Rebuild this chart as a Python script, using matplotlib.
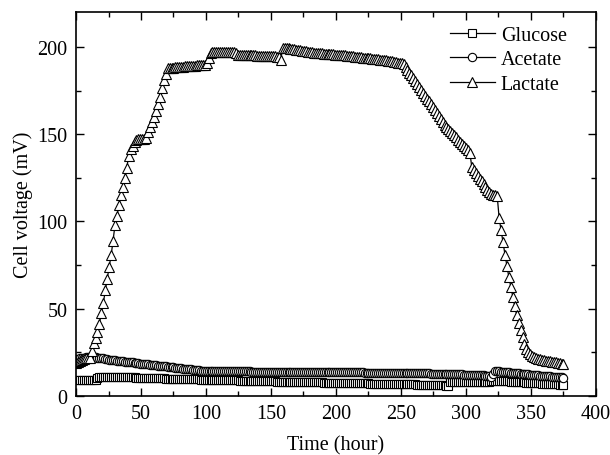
import numpy as np
import matplotlib
matplotlib.use("Agg")
import matplotlib.pyplot as plt
from matplotlib.ticker import MultipleLocator

plt.rcParams['font.family'] = ['Liberation Serif', 'DejaVu Serif']
plt.rcParams['font.size'] = 14.5

# sampling times (h), one reading every 1.5 h
hours = np.arange(0, 375.1, 1.5)

glucose = [
    9.0, 9.0, 9.1, 9.1, 9.1, 9.2, 9.2, 9.2, 9.3, 9.3,
    9.3, 10.5, 11.0, 11.1, 11.1, 11.1, 11.0, 11.0, 11.0, 10.9,
    10.9, 10.9, 10.8, 10.8, 10.8, 10.7, 10.7, 10.7, 10.6, 10.6,
    10.6, 10.5, 10.5, 10.5, 10.4, 10.4, 10.4, 10.3, 10.3, 10.3,
    10.2, 10.2, 10.2, 10.1, 10.1, 10.1, 10.0, 10.0, 10.0, 9.9,
    9.9, 9.9, 9.8, 9.8, 9.8, 9.7, 9.7, 9.7, 9.6, 9.6,
    9.6, 9.5, 9.5, 9.5, 9.4, 9.4, 9.4, 9.4, 9.3, 9.3,
    9.3, 9.2, 9.2, 9.2, 9.1, 9.1, 9.1, 9.0, 9.0, 9.0,
    9.0, 8.9, 8.9, 8.9, 8.8, 8.8, 8.8, 8.7, 8.7, 8.7,
    8.7, 8.6, 8.6, 8.6, 8.6, 8.5, 8.5, 8.5, 8.5, 8.4,
    8.4, 8.4, 8.4, 8.3, 8.3, 8.3, 8.3, 8.2, 8.2, 8.2,
    8.2, 8.1, 8.1, 8.1, 8.1, 8.0, 8.0, 8.0, 8.0, 7.9,
    7.9, 7.9, 7.9, 7.8, 7.8, 7.8, 7.8, 7.7, 7.7, 7.7,
    7.7, 7.6, 7.6, 7.6, 7.6, 7.5, 7.5, 7.5, 7.5, 7.4,
    7.4, 7.4, 7.4, 7.3, 7.3, 7.3, 7.3, 7.2, 7.2, 7.2,
    7.2, 7.1, 7.1, 7.1, 7.1, 7.0, 7.0, 7.0, 7.0, 6.9,
    6.9, 6.9, 6.9, 6.8, 6.8, 6.8, 6.8, 6.7, 6.7, 6.7,
    6.7, 6.6, 6.6, 6.6, 6.6, 6.5, 6.5, 6.5, 6.5, 6.4,
    6.4, 6.4, 6.4, 6.3, 6.3, 6.3, 6.3, 6.2, 6.2, 6.1,
    6.0, 5.7, 8.3, 8.3, 8.3, 8.3, 8.3, 8.3, 8.3, 8.3,
    8.3, 8.3, 8.3, 8.3, 8.3, 8.3, 8.3, 8.3, 8.3, 8.3,
    8.3, 8.3, 8.3, 8.4, 8.6, 8.8, 8.8, 8.7, 8.7, 8.6,
    8.5, 8.5, 8.4, 8.3, 8.3, 8.2, 8.1, 8.0, 8.0, 7.9,
    7.8, 7.7, 7.7, 7.6, 7.5, 7.4, 7.4, 7.3, 7.2, 7.1,
    7.1, 7.0, 6.9, 6.8, 6.8, 6.7, 6.6, 6.6, 6.5, 6.4,
    6.4,
]

acetate = [
    21.0, 21.3, 21.6, 21.8, 22.0, 22.1, 22.2, 22.3, 22.3, 22.2,
    22.1, 22.0, 21.8, 21.7, 21.5, 21.3, 21.1, 20.9, 20.7, 20.5,
    20.4, 20.2, 20.1, 20.0, 19.8, 19.7, 19.6, 19.4, 19.3, 19.2,
    19.0, 18.9, 18.8, 18.6, 18.5, 18.4, 18.2, 18.1, 18.0, 17.8,
    17.7, 17.6, 17.4, 17.3, 17.2, 17.0, 16.9, 16.8, 16.6, 16.5,
    16.4, 16.2, 16.1, 16.0, 15.8, 15.7, 15.6, 15.4, 15.3, 15.2,
    15.0, 14.9, 14.8, 14.7, 14.6, 14.5, 14.4, 14.4, 14.3, 14.3,
    14.3, 14.3, 14.3, 14.3, 14.2, 14.2, 14.2, 14.2, 14.2, 14.2,
    14.2, 14.2, 14.1, 14.1, 14.1, 14.1, 14.1, 14.1, 14.1, 14.1,
    14.0, 14.0, 14.0, 14.0, 14.0, 14.0, 14.0, 14.0, 14.0, 14.0,
    14.0, 14.0, 14.0, 14.0, 13.9, 13.9, 13.9, 13.9, 13.9, 13.9,
    13.9, 13.9, 13.9, 13.9, 13.8, 13.8, 13.8, 13.8, 13.8, 13.8,
    13.8, 13.8, 13.8, 13.8, 13.7, 13.7, 13.7, 13.7, 13.7, 13.7,
    13.7, 13.7, 13.7, 13.6, 13.6, 13.6, 13.6, 13.6, 13.6, 13.6,
    13.6, 13.5, 13.5, 13.5, 13.5, 13.5, 13.5, 13.5, 13.4, 13.4,
    13.4, 13.4, 13.4, 13.4, 13.4, 13.3, 13.3, 13.3, 13.3, 13.3,
    13.3, 13.3, 13.2, 13.2, 13.2, 13.2, 13.2, 13.2, 13.1, 13.1,
    13.1, 13.1, 13.1, 13.0, 13.0, 13.0, 13.0, 13.0, 12.9, 12.9,
    12.9, 12.9, 12.8, 12.8, 12.8, 12.8, 12.7, 12.7, 12.7, 12.7,
    12.6, 12.6, 12.6, 12.5, 12.5, 12.5, 12.4, 12.4, 12.4, 12.3,
    12.3, 12.3, 12.2, 12.2, 12.1, 12.1, 12.0, 12.0, 11.9, 11.8,
    11.7, 11.5, 11.2, 10.8, 12.8, 14.3, 14.2, 14.1, 14.0, 13.9,
    13.7, 13.6, 13.5, 13.4, 13.3, 13.2, 13.1, 13.0, 12.8, 12.7,
    12.6, 12.5, 12.4, 12.3, 12.2, 12.1, 12.0, 11.9, 11.7, 11.6,
    11.5, 11.4, 11.3, 11.2, 11.1, 11.0, 10.9, 10.8, 10.7, 10.6,
    10.5,
]

lactate = [
    19.0, 19.5, 20.0, 20.5, 21.0, 21.5, 22.0, 22.0, 26.0, 30.5,
    33.0, 36.5, 41.5, 47.5, 53.0, 60.5, 67.0, 74.0, 80.5, 89.0,
    98.0, 103.0, 109.5, 115.0, 120.0, 125.0, 130.5, 137.5, 141.5, 143.5,
    145.5, 146.5, 147.0, 147.5, 147.5, 147.5, 148.0, 151.0, 154.0, 157.0,
    160.0, 163.5, 167.5, 171.5, 176.5, 181.0, 184.5, 188.0, 188.0, 188.1,
    188.2, 188.3, 188.4, 188.5, 188.6, 188.7, 188.8, 188.9, 189.0, 189.1,
    189.2, 189.3, 189.4, 189.5, 189.6, 189.7, 189.8, 190.5, 193.5, 196.5,
    197.0, 197.0, 197.0, 197.0, 197.0, 196.9, 196.9, 196.9, 196.9, 196.8,
    196.8, 196.8, 196.7, 195.5, 195.5, 195.4, 195.4, 195.3, 195.3, 195.2,
    195.2, 195.1, 195.1, 195.0, 195.0, 194.9, 194.9, 194.8, 194.8, 194.7,
    194.7, 194.6, 194.6, 194.5, 194.5, 192.5, 199.5, 199.5, 199.4, 199.2,
    199.0, 198.8, 198.6, 198.4, 198.2, 198.0, 197.8, 197.6, 197.4, 197.2,
    196.9, 196.8, 196.7, 196.6, 196.5, 196.4, 196.3, 196.2, 196.1, 196.0,
    195.9, 195.8, 195.7, 195.6, 195.5, 195.4, 195.3, 195.2, 195.1, 195.0,
    194.9, 194.7, 194.6, 194.5, 194.3, 194.2, 194.1, 193.9, 193.8, 193.6,
    193.5, 193.4, 193.2, 193.1, 193.0, 192.8, 192.7, 192.6, 192.4, 192.3,
    192.1, 191.9, 191.7, 191.4, 191.2, 191.0, 190.8, 190.6, 190.3, 188.6,
    187.0, 185.3, 183.7, 182.0, 180.4, 178.7, 177.1, 175.4, 173.7, 172.1,
    170.4, 168.8, 167.1, 165.5, 163.8, 162.2, 160.5, 158.8, 157.2, 155.5,
    154.0, 152.8, 151.6, 150.4, 149.3, 148.1, 146.9, 145.7, 144.5, 143.3,
    142.1, 140.9, 139.5, 131.0, 129.4, 127.8, 126.2, 124.6, 123.0, 121.4,
    119.8, 118.2, 116.6, 115.5, 115.3, 115.0, 114.8, 102.0, 95.0, 88.0,
    81.0, 74.5, 68.0, 62.5, 57.0, 51.5, 46.5, 42.0, 38.0, 34.0,
    30.0, 27.0, 25.0, 23.8, 22.9, 22.2, 21.7, 21.3, 21.0, 20.7,
    20.5, 20.3, 20.1, 19.9, 19.7, 19.5, 19.3, 19.1, 18.9, 18.6,
    18.4,
]

fig = plt.figure(figsize=(6.1, 4.56), dpi=100)
ax = fig.add_axes([0.1246, 0.1294, 0.8524, 0.8421])

common = dict(color='black', linewidth=0.9, markerfacecolor='white',
              markeredgecolor='black', markeredgewidth=0.8)
ax.plot(hours, glucose, marker='s', markersize=5.5, label='Glucose', **common)
ax.plot(hours, acetate, marker='o', markersize=6, label='Acetate', **common)
ax.plot(hours, lactate, marker='^', markersize=7.5, label='Lactate', **common)

ax.set_xlim(0, 400)
ax.set_ylim(0, 220)
ax.xaxis.set_major_locator(MultipleLocator(50))
ax.xaxis.set_minor_locator(MultipleLocator(25))
ax.yaxis.set_major_locator(MultipleLocator(50))
ax.yaxis.set_minor_locator(MultipleLocator(25))
ax.tick_params(which='both', direction='in', top=True, right=True, labelsize=14.5)
ax.tick_params(which='major', length=6, width=1.0, pad=6)
ax.tick_params(which='minor', length=3.5, width=1.0)
for s in ax.spines.values():
    s.set_linewidth(1.2)

ax.set_xlabel('Time (hour)', fontsize=14.5, labelpad=8.5)
ax.set_ylabel('Cell voltage (mV)', fontsize=14.5, labelpad=3)

ax.legend(loc='upper left', bbox_to_anchor=(0.685, 1.012), frameon=False,
          handlelength=2.2, handletextpad=0.3, labelspacing=0.28, fontsize=14.5)

fig.savefig('out.png', dpi=100)
